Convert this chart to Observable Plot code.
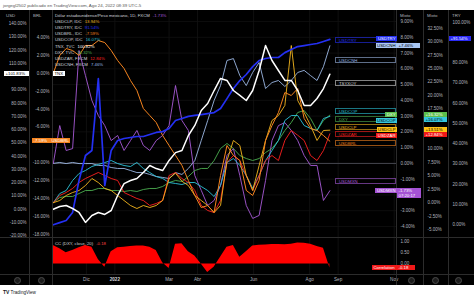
<!DOCTYPE html>
<html><head><meta charset="utf-8">
<script src="https://cdn.jsdelivr.net/npm/d3@7"></script>
<script src="https://cdn.jsdelivr.net/npm/@observablehq/plot@0.6"></script>
<style>
body{margin:0;background:#fff;}
#root{position:relative;width:474px;height:298px;overflow:hidden;background:#fff;font-family:"Liberation Sans",Arial,sans-serif;}
#panel{position:absolute;left:0;top:10px;width:474px;height:275px;background:#000;}
.abs{position:absolute;white-space:nowrap;}
.box{position:absolute;height:5px;line-height:5px;font-size:4.3px;padding:0 1.5px;white-space:nowrap;box-sizing:border-box;}
.sep{position:absolute;background:#2c2c2c;}
.leg{position:absolute;left:55px;font-size:4.3px;line-height:5px;color:#d1d4dc;white-space:nowrap;}
.hdr{position:absolute;font-size:4.4px;color:#b2b5be;top:13px;}
.olab{position:absolute;left:335px;width:61px;height:6px;line-height:5px;font-size:4.3px;padding-left:3px;box-sizing:border-box;border:0.6px solid;white-space:nowrap;}
.icon{position:absolute;width:7px;height:7px;border-radius:50%;background:#1c1c1c;border:0.6px solid #4a4a4a;box-sizing:border-box;top:276.5px;}
</style></head>
<body><div id="root"><div id="panel"></div></div>
<script>
// ---------- data (weekly observations, % change since first bar) ----------
const nWeeks = 44;
const dates = d3.range(nWeeks).map(i => new Date(Date.UTC(2021, 9, 26 + 7 * i)));
const usdmxn = [0, 2.40, 0.82, 0.94, 7.16, 5.57, 3.99, 3.04, 2.40, 1.45, 1.77, 0.82, 1.45, 2.09, 1.14, 0.82, 1.45, 1.77, 2.40, 4.94, 2.72, 2.09, -0.77, -1.71, -2.67, -2.35, -1.40, 0.50, 0.94, -0.77, -2.67, -3.49, -3.30, -1.08, 1.45, 2.40, 2.59, 2.09, 1.45, 0.50, -0.13, -0.13, -2.35, -1.73];
const usdclp = [0, 0.41, 1.34, 1.90, 2.27, 3.20, 4.51, 3.76, 2.65, 2.27, 1.34, 0.41, -0.52, -1.08, -0.52, -0.89, -0.52, 0.41, 4.5, 5.5, 4.0, 3.20, 1.34, 0.41, -0.52, -1.83, -0.52, 7.86, 11.59, 10.66, 5.07, 2.27, 6.93, 11.59, 15.31, 16.24, 18.11, 29.28, 19.04, 16.80, 14.38, 11.59, 13.45, 13.51];
const usdtry = [0, 1.1, 2.1, 6.1, 21.9, 34.2, 36.7, 72.2, 19.4, 36.7, 41.6, 42.6, 43.1, 43.6, 43.6, 44.6, 45.6, 46.0, 47.5, 51.5, 52.5, 53.5, 54.0, 54.4, 54.9, 55.4, 57.4, 62.3, 67.3, 71.2, 74.2, 78.1, 81.1, 82.1, 82.6, 82.6, 85.0, 86.5, 88.0, 88.5, 89.0, 89.5, 90.5, 91.54];
const usdbrl = [0, 1.99, 2.77, 2.55, 1.99, 3.11, 3.11, 3.66, 3.44, 2.55, 1.43, 0.54, -0.80, -1.92, -3.93, -4.72, -5.50, -6.95, -8.07, -9.18, -10.30, -11.98, -13.65, -15.00, -14.78, -15.55, -11.42, -8.07, -9.18, -9.74, -13.09, -13.65, -11.98, -7.51, -5.83, -4.38, -2.15, -2.48, -1.70, -5.05, -6.17, -6.39, -6.95, -7.59];
const usdcop = [0, 1.71, 2.27, 4.14, 5.44, 6.00, 6.74, 7.12, 7.49, 7.86, 7.30, 6.93, 6.74, 7.49, 6.37, 5.62, 4.88, 4.51, 3.76, 3.58, 3.39, 3.76, 3.76, 3.02, 2.27, 1.15, 3.20, 7.49, 8.23, 6.93, 5.07, 2.65, 5.07, 7.86, 9.72, 11.59, 15.31, 16.24, 16.24, 14.38, 13.82, 13.45, 15.69, 16.07];
const tnx    = [0, 2.1, 2.9, 0.6, -2.4, -9.9, -4.7, -2.4, -3.9, -0.9, 10.4, 19.4, 21.7, 23.2, 27.7, 33.0, 30.7, 29.2, 36.8, 42.7, 44.3, 55.6, 63.2, 74.5, 79.7, 89.5, 98.6, 97.1, 89.5, 85.8, 82.0, 89.5, 104.6, 123.4, 112.1, 104.6, 97.1, 97.1, 89.5, 78.2, 78.2, 83.5, 91.0, 101.83];
const dxy    = [0, 0.97, 1.16, 1.16, 1.71, 2.27, 2.27, 2.65, 2.65, 2.27, 2.27, 2.09, 2.27, 2.09, 2.46, 2.65, 2.65, 3.02, 3.76, 4.14, 3.95, 4.88, 6.00, 6.38, 6.38, 7.86, 10.10, 11.03, 10.10, 8.79, 8.23, 7.86, 8.23, 9.35, 10.10, 11.59, 13.45, 14.94, 16.80, 17.17, 15.69, 13.45, 15.31, 16.32];
const usdzar = [0, 1.34, 1.90, 2.65, 3.76, 4.51, 5.07, 5.63, 5.07, 4.51, 4.14, 1.90, 1.34, 0.78, 0.41, -0.52, -0.15, 0.41, 5.07, 5.63, 4.51, 3.76, 2.27, -0.52, -1.45, -1.83, 0.41, 7.49, 8.79, 7.86, 5.07, 2.27, 5.07, 7.86, 8.79, 7.86, 11.59, 13.45, 12.56, 11.59, 8.79, 7.86, 9.72, 12.84];
const usdcnh = [0, 0.06, -0.01, 0.06, -0.01, -0.01, -0.01, -0.13, -0.13, -0.26, -0.32, -0.32, -0.45, -0.58, -0.58, -0.70, -0.83, -0.89, -0.96, -0.58, -0.70, -0.32, 0.18, 1.45, 2.72, 3.99, 4.94, 6.53, 6.65, 5.57, 4.94, 5.77, 6.40, 4.75, 5.13, 5.26, 4.88, 5.26, 5.77, 5.90, 5.57, 5.26, 6.14, 7.46];
const corr   = [0.82, 0.68, 0.5, 0.6, 0.72, 0.82, 0.75, 0.2, -0.15, 0.55, 0.72, 0.75, 0.78, 0.8, 0.8, 0.75, 0.6, 0.05, -0.2, 0.88, 0.9, 0.55, 0.35, 0.0, -0.38, -0.15, 0.3, 0.75, 0.82, 0.3, 0.55, 0.8, 0.83, 0.85, 0.87, 0.87, 0.86, 0.88, 0.93, 0.92, 0.88, 0.78, 0.7, -0.18];

// tick labels
const monthTicks = [["2021-12-01","Dic"],["2022-01-01","2022"],["2022-03-01","Mar"],["2022-04-01","Abr"],["2022-06-01","Jun"],["2022-08-01","Ago"],["2022-09-01","Sep"],["2022-11-01","Nov"]];
const usdTicks = [140,130,120,110,100,90,80,70,60,50,40,30,20,10,0,-10,-20];
const brlTicks = [4,2,0,-2,-4,-6,-8,-10,-12,-14,-16,-18];
const mixto1Ticks = [9,8,7,6,5,4,3,2,1,0,-1,-2,-3,-4];
const mixto2Ticks = [32.5,30,27.5,25,22.5,20,17.5,15,12.5,10,7.5,5,2.5,0,-2.5,-5];
const tryTicks = [100,90,80,70,60,50,40,30,20,10,0];
const corrTicks = [1,0.5,0];

// visible extent of each price scale
const yUSD = [-21.25, 149.8], yBRL = [-18.35, 7.02], yTRY = [-6.27, 105.8], yMix1 = [-4.70, 9.70], yMix2 = [-6.48, 35.8], yCorr = [-0.467, 1.178];

const C = {mxn:"#a85ad8", clp:"#f6b81e", try:"#2430f2", brl:"#f5841f", cop:"#2cc4da", tnx:"#ffffff", dxy:"#4caf50", zar:"#ff2020", cnh:"#9cb8e4", corr:"#ff0000"};
const TXT = "#b2b5be";

const rows = dates.map((date, i) => ({date, mxn:usdmxn[i], clp:usdclp[i], try:usdtry[i], brl:usdbrl[i], cop:usdcop[i], tnx:tnx[i], dxy:dxy[i], zar:usdzar[i], cnh:usdcnh[i], corr:corr[i]}));
const months = monthTicks.map(([d, l]) => ({date:new Date(d + "T00:00:00Z"), label:l}));
const xDomain = [new Date(Date.UTC(2021, 9, 25, 3)), new Date(Date.UTC(2022, 10, 3, 12))];
const root = document.getElementById("root");
const pct = v => v.toFixed(2) + "%";
const spct = v => (v >= 0 ? "+" : "") + v.toFixed(2) + "%";
const last = a => a[a.length - 1];

// scales (same as the layers use)
const SC = (dom, top = 10, bottom = 237) => Plot.scale({y:{domain:dom, range:[bottom, top]}});
const sUSD = SC(yUSD), sBRL = SC(yBRL), sTRY = SC(yTRY), sM1 = SC(yMix1), sM2 = SC(yMix2), sCorr = SC(yCorr, 237, 274);

function spread(items, gap) { items.sort((a, b) => a.y - b.y); for (let i = 1; i < items.length; i++) if (items[i].y < items[i - 1].y + gap) items[i].y = items[i - 1].y + gap; return items; }

// label boxes (y positions from the scales)
const nameBoxes = spread([
  {t:"USDTRY", y:sTRY.apply(last(usdtry)), bg:C.try, fg:"#fff"},
  {t:"USDCNH", y:sM1.apply(last(usdcnh)), bg:"#a9c7f3", fg:"#000"},
  {t:"DXY", y:sM2.apply(last(dxy)), bg:"#5cbf4c", fg:"#fff"},
  {t:"USDCOP", y:sM2.apply(last(usdcop)), bg:"#35c6dd", fg:"#000"},
  {t:"USDCLP", y:sM2.apply(last(usdclp)), bg:"#ffc414", fg:"#000"},
  {t:"USDZAR", y:sM2.apply(last(usdzar)), bg:"#f01818", fg:"#fff"},
  {t:"USDMXN", y:sM1.apply(last(usdmxn)), bg:"#a552d4", fg:"#fff"}
], 5.6);
const col2Boxes = spread([
  {v:last(dxy), y:sM2.apply(last(dxy)), bg:"#5cbf4c", fg:"#fff"},
  {v:last(usdcop), y:sM2.apply(last(usdcop)), bg:"#35c6dd", fg:"#000"},
  {v:last(usdclp), y:sM2.apply(last(usdclp)), bg:"#ffc414", fg:"#000"},
  {v:last(usdzar), y:sM2.apply(last(usdzar)), bg:"#f01818", fg:"#fff"}
], 5);
const yCNH = sM1.apply(last(usdcnh)), yMX = sM1.apply(last(usdmxn)), yTR = sTRY.apply(last(usdtry));
const yTN = sUSD.apply(last(tnx)), yBR = sBRL.apply(last(usdbrl)), yCC = sCorr.apply(last(corr));
const col1Ys = [yCNH, yMX, yMX + 5];

// hide tick labels covered by a box (as the price scales do)
const free = (ticks, s, ys, gap = 4.8) => ticks.filter(t => ys.every(y => Math.abs(s.apply(t) - y) > gap));

function layer(yDomain, marks, top = 10, bottom = 61) {
  const p = Plot.plot({
    width:474, height:298, marginLeft:52, marginRight:78, marginTop:top, marginBottom:bottom,
    x:{type:"utc", domain:xDomain, axis:null},
    y:{domain:yDomain, axis:null},
    style:{background:"transparent", position:"absolute", left:"0px", top:"0px", maxWidth:"none", overflow:"visible", fontFamily:"Liberation Sans, Arial, sans-serif"},
    marks
  });
  root.appendChild(p);
  return p;
}
const lineOf = (key, w = 0.9) => Plot.line(rows, {x:"date", y:key, stroke:C[key], strokeWidth:w});
const axisText = (ticks, anchor, dx, ta, fmt = pct) => Plot.text(ticks, {y:d => d, text:fmt, frameAnchor:anchor, dx, textAnchor:ta, fill:TXT, fontSize:4.5});

// grid + lower pane
layer(yUSD, [Plot.ruleX(months, {x:"date", stroke:"#161616", strokeWidth:0.7})]);
layer(yCorr, [
  Plot.ruleX(months, {x:"date", stroke:"#161616", strokeWidth:0.7}),
  Plot.areaY(rows, {x:"date", y:"corr", fill:C.corr}),
  axisText(free(corrTicks, sCorr, [yCC], 3.5), "right", 4, "start", d => d.toFixed(2)),
  Plot.text(months.filter(m => m.label !== "2022"), {x:"date", text:"label", frameAnchor:"bottom", dy:6, fill:TXT, fontSize:4.6}),
  Plot.text(months.filter(m => m.label === "2022"), {x:"date", text:"label", frameAnchor:"bottom", dy:6, fill:"#d1d4dc", fontSize:4.6, fontWeight:"bold"})
], 237, 24);

layer(yMix1, [
  Plot.ruleY(mixto1Ticks, {stroke:"#121212", strokeWidth:0.7}),
  Plot.ruleY([0], {stroke:"#5d606b", strokeWidth:0.7}),
  lineOf("cnh"), lineOf("mxn"),
  axisText(free(mixto1Ticks, sM1, col1Ys), "right", 4, "start")
]);
layer(yMix2, [lineOf("dxy"), lineOf("cop"), lineOf("zar"), lineOf("clp"), axisText(free(mixto2Ticks, sM2, col2Boxes.map(d => d.y)), "right", 31, "start")]);
layer(yBRL, [lineOf("brl", 1), axisText(free(brlTicks, sBRL, [yBR]), "left", -3, "end")]);
layer(yTRY, [lineOf("try", 1.7), axisText(free(tryTicks, sTRY, [yTR]), "right", 56, "start")]);
layer(yUSD, [lineOf("tnx", 1.5), axisText(free(usdTicks, sUSD, [yTN]), "left", -26, "end")]);

// ---------- chrome ----------
function el(cls, css, html) { const d = document.createElement("div"); d.className = cls; Object.assign(d.style, css); if (html != null) d.innerHTML = html; root.appendChild(d); return d; }
[29, 52, 396, 423, 448].forEach(x => el("sep", {left:x + "px", top:"10px", width:"0.7px", height:"275px"}));
[237, 274].forEach(y => el("sep", {left:"0px", top:y + "px", width:"474px", height:"0.7px"}));
[17, 41, 411, 435, 458].forEach(x => el("icon", {left:(x - 3.5) + "px"}));

el("abs", {left:"3px", top:"2.5px", fontSize:"4.4px", color:"#555"}, "jorgegl2502 publicado en TradingView.com, Ago 24, 2022 08:39 UTC-5");
el("abs", {left:"3px", top:"289px", fontSize:"4.6px", color:"#131722"}, "<b style='font-size:5px'>TV</b> TradingView");

[["USD", 6], ["BRL", 33], ["Mixto", 400], ["Mixto", 427], ["TRY", 452]].forEach(([t, x]) => el("hdr", {left:x + "px"}, t));

// legend
const legend = [
  ["Dólar estadounidense/Peso mexicano, 1D, FXCM", "-1.73%", C.mxn],
  ["USDCLP, IDC", "13.94%", C.clp],
  ["USDTRY, IDC", "91.54%", C.try],
  ["USDBRL, IDC", "-7.59%", C.brl],
  ["USDCOP, IDC", "16.07%", C.cop],
  ["TNX, TVC", "100.82%", C.tnx],
  ["DXY, TVC", "16.32%", C.dxy],
  ["USDZAR, FXCM", "12.84%", C.zar],
  ["USDCNH, FXCM", "7.46%", C.cnh]
];
legend.forEach(([n, v, c], i) => el("leg", {top:(12.5 + i * 6.2) + "px"}, `${n}<span style="color:${c};margin-left:3px">${v}</span>`));
el("leg", {top:"240.5px"}, `CC (DXY, close, 20)<span style="color:#ff4040;margin-left:3px">${last(corr).toFixed(2)}</span>`);

// outlined symbol labels
const outlined = [["USDTRY", C.try, 40], ["USDCNH", C.cnh, 60], ["TSYXOY", "#d8d8d8", 83], ["USDCOP", C.cop, 110.7], ["DXY", C.dxy, 118.5], ["USDCLP", C.clp, 126.5], ["USDZAR", C.zar, 134], ["USDBRL", C.brl, 142.7], ["USDMXN", C.mxn, 180.7]];
outlined.forEach(([t, c, y]) => el("olab", {top:(y - 3) + "px", color:c, borderColor:c + "99"}, t));

function box(text, css, bg, fg) { return el("box", Object.assign({background:bg, color:fg}, css), text); }
nameBoxes.forEach(d => box(d.t, {right:"77px", top:(d.y - 2.5) + "px"}, d.bg, d.fg));
col2Boxes.forEach(d => box(spct(d.v), {left:"424px", width:"23px", top:(d.y - 2.5) + "px"}, d.bg, d.fg));
box(spct(last(usdcnh)), {left:"397px", width:"23px", top:(yCNH - 2.5) + "px"}, "#a9c7f3", "#000");
box(spct(last(usdmxn)), {left:"397px", width:"24px", top:(yMX - 2.5) + "px"}, "#a552d4", "#fff");
box("07:20:17", {left:"397px", width:"24px", top:(yMX + 2.5) + "px"}, "#a552d4", "#fff");
box(spct(last(usdtry)), {left:"449px", width:"22px", top:(yTR - 2.5) + "px"}, "#2a2af5", "#fff");
box(spct(last(tnx)), {left:"4px", width:"25px", top:(yTN - 2.5) + "px"}, "#ffffff", "#000");
box("TNX", {left:"53px", top:(yTN - 2.5) + "px"}, "#ffffff", "#000");
box(spct(last(usdbrl)), {left:"32px", width:"18px", top:(yBR - 2.5) + "px"}, "#f5841f", "#fff");
box("USDBRL", {left:"50px", top:(yBR - 2.5) + "px"}, "#f5841f", "#fff");
box("Correlation", {right:"77px", width:"25px", top:(yCC - 2.5) + "px"}, "#f01818", "#fff");
box(last(corr).toFixed(2), {left:"397px", width:"18px", top:(yCC - 2.5) + "px"}, "#f01818", "#fff");
</script>
</body></html>
